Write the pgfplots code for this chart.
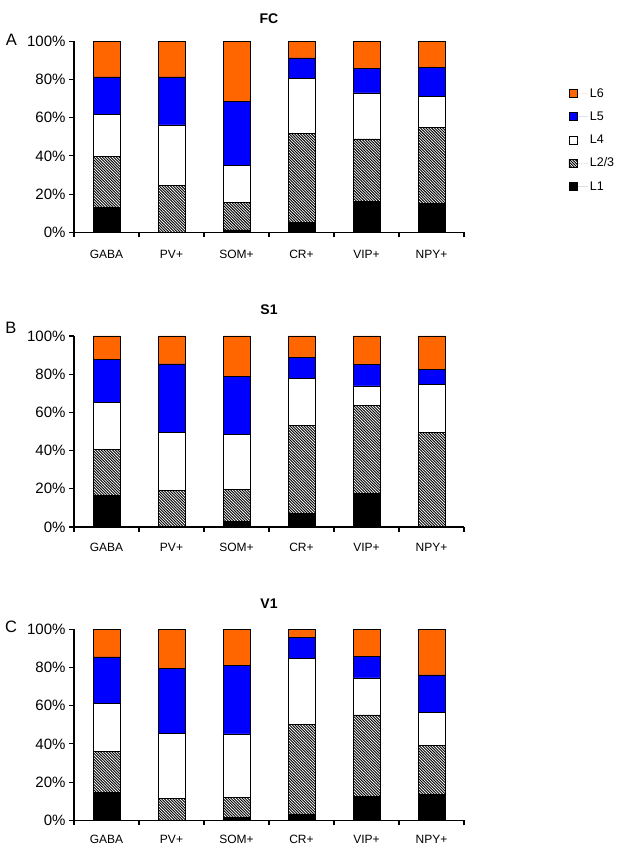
\documentclass[border=0pt]{standalone}
\usepackage{pgfplots}
\pgfplotsset{compat=1.18}
\usepackage{pgfplotstable}
\usepackage{fontspec}
\setmainfont{Liberation Sans}
\usetikzlibrary{patterns}
\pgfdeclarepatternformonly{dnw}{\pgfqpoint{-1pt}{-1pt}}{\pgfqpoint{3.8pt}{3.8pt}}{\pgfqpoint{2.8pt}{2.8pt}}{%
  \pgfsetlinewidth{0.9pt}%
  \pgfpathmoveto{\pgfqpoint{0pt}{2.8pt}}%
  \pgfpathlineto{\pgfqpoint{2.9pt}{-0.1pt}}%
  \pgfusepath{stroke}}
\definecolor{lorange}{RGB}{255,102,0}
\definecolor{lblue}{RGB}{0,0,255}

\pgfplotstableread{
x L1 L23 L4 L5 L6
0 13.0 26.7 22.0 19.7 18.6
1 0 24.5 31.8 25.1 18.6
2 1.2 14.6 19.3 33.4 31.5
3 5.0 46.7 29.0 10.6 8.7
4 16.3 32.6 24.1 12.9 14.1
5 15.3 39.7 16.0 15.4 13.6
}\FC
\pgfplotstableread{
x L1 L23 L4 L5 L6
0 16.7 24.1 24.4 22.4 12.4
1 0 19.2 30.5 35.7 14.6
2 3.0 16.5 28.8 30.6 21.1
3 7.1 46.2 24.4 11.2 11.1
4 17.6 46.0 10.3 11.1 15.0
5 0 49.5 25.1 7.8 17.6
}\SI
\pgfplotstableread{
x L1 L23 L4 L5 L6
0 14.7 21.4 25.2 24.2 14.5
1 0 11.6 34.1 34.0 20.3
2 1.6 10.3 33.3 35.9 18.9
3 3.3 46.8 34.7 10.8 4.4
4 12.4 42.8 19.4 11.4 14.0
5 13.5 25.6 17.3 19.8 23.8
}\VI

\pgfplotsset{
  panel/.style={
    ybar stacked, scale only axis, width=390pt, height=191pt, bar width=26.5pt,
    xmin=-0.5, xmax=5.5, ymin=0, ymax=100,
    axis x line*=bottom, axis y line*=left,
    axis line style={-, line width=1.1pt},
    xtick={-0.5,0.5,1.5,2.5,3.5,4.5,5.5}, xticklabels={,,,,,,},
    extra x ticks={0,1,2,3,4,5},
    extra x tick labels={GABA,PV+,SOM+,CR+,VIP+,NPY+},
    extra x tick style={major tick length=0pt,
      tick label style={font=\fontsize{12}{14}\selectfont, yshift=#1}},
    ytick={0,20,40,60,80,100},
    yticklabels={0\%,20\%,40\%,60\%,80\%,100\%},
    yticklabel style={font=\fontsize{15}{17}\selectfont},
    tick align=outside, major tick length=5pt,
    tick style={line width=1.1pt, black},
    anchor=south west, clip=false,
    title style={font=\bfseries\fontsize{14}{16}\selectfont, at={(0.5,1)}, anchor=base},
  },
  sL1/.style={fill=black, draw=black, line width=0.5pt},
  sL23/.style={pattern=dnw, draw=black, line width=0.5pt},
  sL4/.style={fill=white, draw=black, line width=0.5pt},
  sL5/.style={fill=lblue, draw=black, line width=0.5pt},
  sL6/.style={fill=lorange, draw=black, line width=0.5pt},
}

\begin{document}
\begin{tikzpicture}
\useasboundingbox (0pt,0pt) rectangle (624pt,850pt);

\begin{axis}[panel=-14pt, at={(74pt,617.7pt)}, title=FC, title style={yshift=12pt},
  reverse legend,
  legend style={at={(1.26,0.775)}, anchor=north west, draw=none, fill=none,
    font=\fontsize{12.5}{14}\selectfont, row sep=9pt, cells={anchor=west}},
  legend image code/.code={\draw[#1] (0pt,-4pt) rectangle (8pt,4pt); \path[draw=none] (0pt,0pt) -- (19pt,0pt);}]
\addplot[sL1] table[x=x,y=L1]{\FC};
\addplot[sL23] table[x=x,y=L23]{\FC};
\addplot[sL4] table[x=x,y=L4]{\FC};
\addplot[sL5] table[x=x,y=L5]{\FC};
\addplot[sL6] table[x=x,y=L6]{\FC};
\legend{L1,L2/3,L4,L5,L6}
\end{axis}

\begin{axis}[panel=-13pt, at={(74pt,323pt)}, title=S1, title style={yshift=15pt}]
\addplot[sL1] table[x=x,y=L1]{\SI};
\addplot[sL23] table[x=x,y=L23]{\SI};
\addplot[sL4] table[x=x,y=L4]{\SI};
\addplot[sL5] table[x=x,y=L5]{\SI};
\addplot[sL6] table[x=x,y=L6]{\SI};
\end{axis}

\begin{axis}[panel=-11pt, at={(74pt,29.7pt)}, title=V1, title style={yshift=15.2pt}]
\addplot[sL1] table[x=x,y=L1]{\VI};
\addplot[sL23] table[x=x,y=L23]{\VI};
\addplot[sL4] table[x=x,y=L4]{\VI};
\addplot[sL5] table[x=x,y=L5]{\VI};
\addplot[sL6] table[x=x,y=L6]{\VI};
\end{axis}

\node[font=\fontsize{16.5}{18}\selectfont] at (11.5pt,810pt) {A};
\node[font=\fontsize{16.5}{18}\selectfont] at (11pt,522pt) {B};
\node[font=\fontsize{16.5}{18}\selectfont] at (11pt,223pt) {C};
\end{tikzpicture}
\end{document}
